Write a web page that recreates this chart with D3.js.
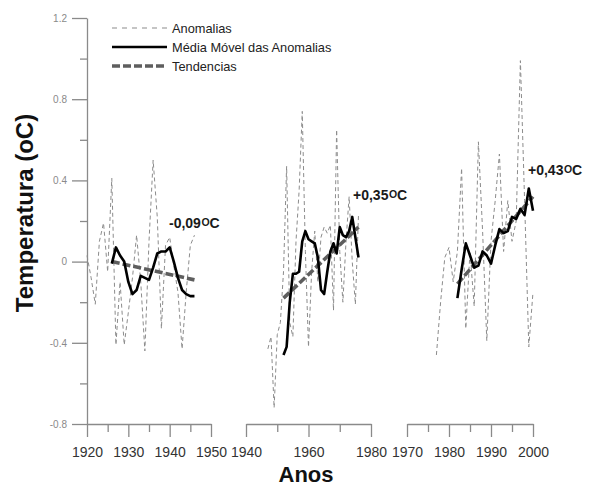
<!DOCTYPE html>
<html>
<head>
<meta charset="utf-8">
<script src="https://cdn.jsdelivr.net/npm/d3@7"></script>
<style>
  body { margin: 0; background: #fff; }
  svg { display: block; font-family: "Liberation Sans", Arial, sans-serif; }
</style>
</head>
<body>
<svg id="chart" width="589" height="486"></svg>
<script>
// ---- data: [ano, valor em oC] ----
const anomalias1 = [
  [1920, 0.03], [1921, -0.08], [1922, -0.21], [1923, 0.10], [1924, 0.19], [1925, -0.05],
  [1926, 0.41], [1927, -0.41], [1928, -0.10], [1929, -0.41], [1930, -0.25], [1931, -0.08],
  [1932, 0.13], [1933, -0.10], [1934, -0.44], [1935, 0.10], [1936, 0.50], [1937, 0.22],
  [1938, -0.33], [1939, 0.08], [1940, 0.12], [1941, -0.02], [1942, -0.15], [1943, -0.43],
  [1944, -0.15], [1945, 0.08], [1946, 0.13]
];
const media1 = [
  [1926, -0.01], [1927, 0.07], [1928, 0.03], [1929, 0.00], [1930, -0.10], [1931, -0.16],
  [1932, -0.14], [1933, -0.07], [1934, -0.08], [1935, -0.09], [1936, -0.03], [1937, 0.04],
  [1938, 0.05], [1939, 0.05], [1940, 0.07], [1941, 0.00], [1942, -0.08], [1943, -0.14],
  [1944, -0.16], [1945, -0.17], [1946, -0.17]
];
const tendencia1 = [[1926, 0.00], [1946, -0.09]];

const anomalias2 = [
  [1947, -0.43], [1948, -0.37], [1949, -0.72], [1950, -0.36], [1951, -0.30], [1952, -0.05],
  [1953, 0.47], [1954, -0.30], [1955, -0.37], [1956, 0.10], [1957, 0.35], [1958, 0.74],
  [1959, 0.05], [1960, -0.42], [1961, -0.05], [1962, 0.15], [1963, -0.10], [1964, 0.12],
  [1965, 0.17], [1966, 0.14], [1967, 0.18], [1968, -0.24], [1969, 0.65], [1970, 0.05],
  [1971, -0.20], [1972, 0.10], [1973, 0.32], [1974, 0.00], [1975, -0.21], [1976, 0.23]
];
const media2 = [
  [1952, -0.46], [1953, -0.42], [1954, -0.20], [1955, -0.06], [1956, -0.06], [1957, -0.05],
  [1958, 0.10], [1959, 0.15], [1960, 0.11], [1961, 0.10], [1962, 0.09], [1963, 0.02],
  [1964, -0.14], [1965, -0.16], [1966, -0.05], [1967, 0.05], [1968, 0.09], [1969, 0.04],
  [1970, 0.17], [1971, 0.13], [1972, 0.12], [1973, 0.15], [1974, 0.22], [1975, 0.12],
  [1976, 0.02]
];
const tendencia2 = [[1952, -0.18], [1976, 0.17]];

const anomalias3 = [
  [1977, -0.46], [1978, -0.20], [1979, 0.02], [1980, 0.07], [1981, -0.10], [1982, 0.05],
  [1983, 0.46], [1984, -0.33], [1985, 0.05], [1986, -0.22], [1987, 0.59], [1988, 0.15],
  [1989, -0.39], [1990, 0.10], [1991, 0.30], [1992, 0.53], [1993, 0.05], [1994, 0.30],
  [1995, 0.10], [1996, 0.20], [1997, 0.99], [1998, 0.30], [1999, -0.42], [2000, -0.15]
];
const media3 = [
  [1982, -0.18], [1983, -0.04], [1984, 0.09], [1985, 0.03], [1986, -0.03], [1987, -0.02],
  [1988, 0.05], [1989, 0.03], [1990, -0.01], [1991, 0.08], [1992, 0.16], [1993, 0.14],
  [1994, 0.15], [1995, 0.22], [1996, 0.21], [1997, 0.26], [1998, 0.23], [1999, 0.36],
  [2000, 0.25]
];
const tendencia3 = [[1982, -0.11], [2000, 0.32]];

const tendLabels = ["-0,09", "+0,35", "+0,43"];
const xDomains = [[1920, 1950], [1940, 1980], [1970, 2000]];
const xMajorTicks = [[1920, 1930, 1940, 1950], [1940, 1960, 1980], [1970, 1980, 1990, 2000]];
const xMinorTicks = [[1925, 1935, 1945], [1950, 1970], [1975, 1985, 1995]];
const yMajorTicks = [-0.8, -0.4, 0, 0.4, 0.8, 1.2];
const yMinorTicks = [-0.6, -0.2, 0.2, 0.6, 1.0];
const legendNames = ["Anomalias", "Média Móvel das Anomalias", "Tendencias"];

// ---- layout ----
const svg = d3.select("#chart");
const panelRanges = [[87, 211], [246, 371], [407, 533]];
const labelPos = [[169, 228], [353, 200], [528, 175]];
const axisY = 424;
const axisColor = "#8a8a8a";

const y = d3.scaleLinear().domain([-0.8, 1.2]).range([424, 18]);

const styles = {
  anom:  { stroke: "#8c8c8c", width: 1,   dash: "4,3" },
  media: { stroke: "#000",    width: 2.6, dash: null },
  tend:  { stroke: "#5e5e5e", width: 3.6, dash: "8,3" }
};

const panels = [
  { anom: anomalias1, media: media1, tend: tendencia1 },
  { anom: anomalias2, media: media2, tend: tendencia2 },
  { anom: anomalias3, media: media3, tend: tendencia3 }
];

function styleAxis(g, labelColor, fontSize) {
  g.selectAll("path, line").attr("stroke", axisColor).attr("stroke-width", 1.3);
  g.selectAll("text").attr("fill", labelColor).style("font-size", fontSize + "px")
    .style("font-family", "'Liberation Sans', Arial, sans-serif");
}

// y axis
const yAxis = svg.append("g").attr("transform", `translate(${panelRanges[0][0]},0)`)
  .call(d3.axisLeft(y).tickValues(yMajorTicks).tickSize(15).tickSizeOuter(0)
    .tickPadding(5).tickFormat(d => String(d)));
styleAxis(yAxis, "#8a8a8a", 10);
const yMinor = svg.append("g").attr("transform", `translate(${panelRanges[0][0]},0)`)
  .call(d3.axisLeft(y).tickValues(yMinorTicks).tickSize(7).tickFormat(""));
yMinor.select(".domain").remove();
styleAxis(yMinor, "#8a8a8a", 10);

const line = d3.line();

panels.forEach((p, i) => {
  const x = d3.scaleLinear().domain(xDomains[i]).range(panelRanges[i]);

  const xa = svg.append("g").attr("transform", `translate(0,${axisY})`)
    .call(d3.axisBottom(x).tickValues(xMajorTicks[i]).tickSize(13).tickSizeOuter(0)
      .tickPadding(10).tickFormat(d3.format("d")));
  styleAxis(xa, "#333", 14);
  const xm = svg.append("g").attr("transform", `translate(0,${axisY})`)
    .call(d3.axisBottom(x).tickValues(xMinorTicks[i]).tickSize(8).tickFormat(""));
  xm.select(".domain").remove();
  styleAxis(xm, "#333", 14);

  line.x(d => x(d[0])).y(d => y(d[1]));

  [["anom", p.anom], ["tend", p.tend], ["media", p.media]].forEach(([k, data]) => {
    const s = styles[k];
    svg.append("path")
      .datum(data)
      .attr("d", line)
      .attr("fill", "none")
      .attr("stroke", s.stroke)
      .attr("stroke-width", s.width)
      .attr("stroke-dasharray", s.dash)
      .attr("stroke-linejoin", "round");
  });

  // trend label, "oC" drawn with a raised small O like the original
  const t = svg.append("text")
    .attr("x", labelPos[i][0])
    .attr("y", labelPos[i][1])
    .attr("fill", "#1a1a1a")
    .style("font-weight", "bold")
    .style("font-size", "14px")
    .text(tendLabels[i]);
  t.append("tspan").attr("dx", 0.5).attr("dy", -2.5).style("font-size", "10.5px").text("O");
  t.append("tspan").attr("dy", 2.5).text("C");
});

// legend
const legend = svg.append("g");
const legendKeys = ["anom", "media", "tend"];
legendKeys.forEach((k, i) => {
  const s = styles[k];
  const ly = 28 + i * 19;
  legend.append("line")
    .attr("x1", 112).attr("x2", 167).attr("y1", ly).attr("y2", ly)
    .attr("stroke", s.stroke)
    .attr("stroke-width", k === "anom" ? 1.2 : (k === "tend" ? 3.4 : 2.4))
    .attr("stroke-dasharray", k === "anom" ? "5,5" : s.dash);
  legend.append("text")
    .attr("x", 172).attr("y", ly + 4.5)
    .attr("fill", "#222")
    .style("font-size", "12.8px")
    .text(legendNames[i]);
});

// axis titles
svg.append("text")
  .attr("transform", "translate(33,213) rotate(-90)")
  .attr("text-anchor", "middle")
  .style("font-weight", "bold")
  .style("font-size", "24px")
  .attr("fill", "#111")
  .text("Temperatura (oC)");

svg.append("text")
  .attr("x", 306).attr("y", 482)
  .attr("text-anchor", "middle")
  .style("font-weight", "bold")
  .style("font-size", "22px")
  .attr("fill", "#111")
  .text("Anos");
</script>
</body>
</html>
